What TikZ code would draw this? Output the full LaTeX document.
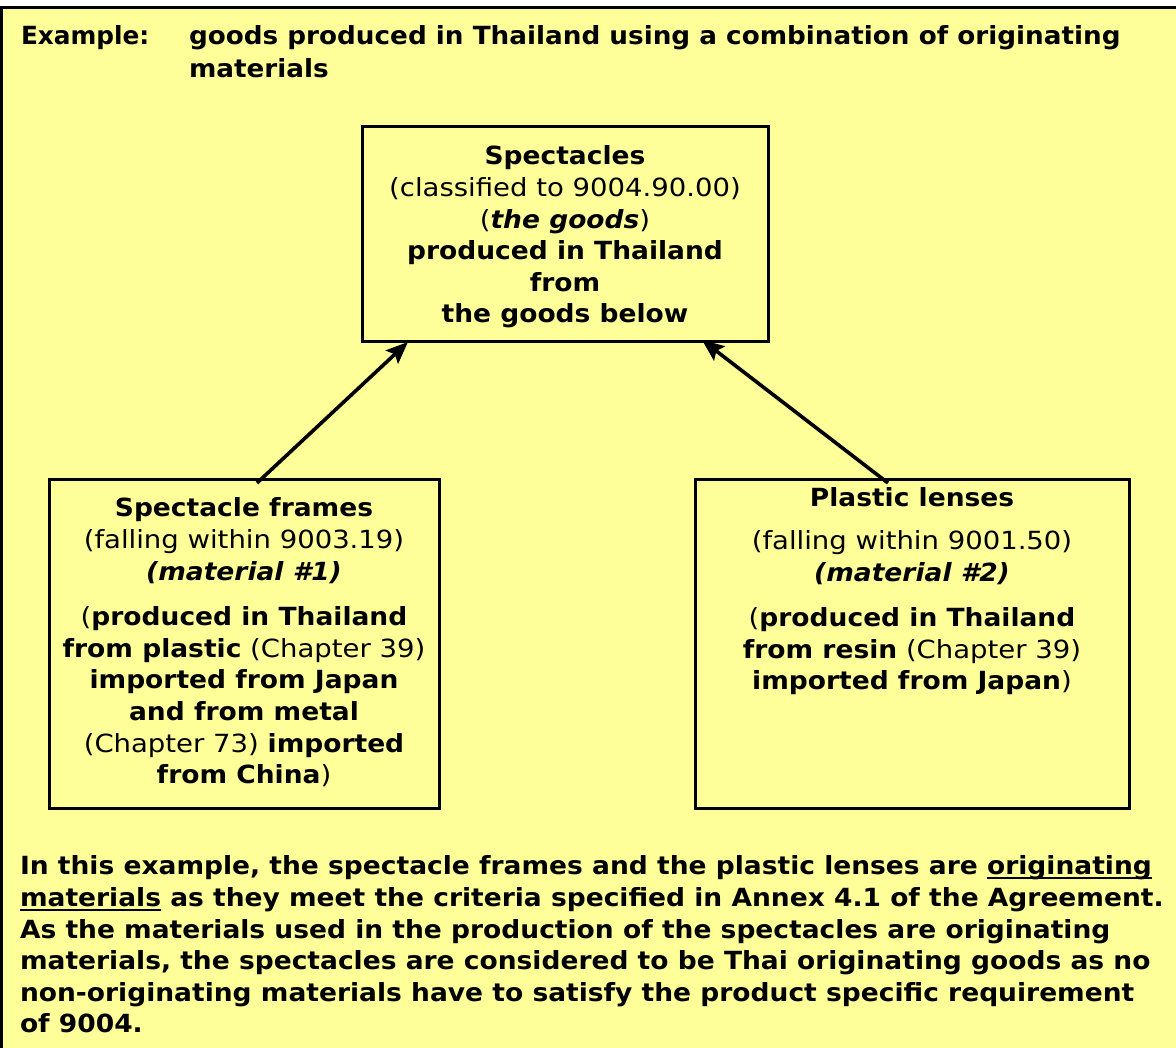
\documentclass[tikz,border=0pt]{standalone}
\usepackage{fontspec}
\setmainfont{DejaVu Sans}[UprightFeatures={FakeStretch=1.10},ItalicFeatures={FakeStretch=1.10},BoldFeatures={FakeStretch=1.06},BoldItalicFeatures={FakeStretch=1.06}]
\newfontfamily\exfont{DejaVu Sans}[BoldFeatures={FakeStretch=0.99}]
\newfontfamily\titfont{DejaVu Sans}[BoldFeatures={FakeStretch=1.05}]
\usetikzlibrary{arrows.meta,calc}
\definecolor{bgyellow}{RGB}{255,255,153}
\newcommand\ulx[1]{\setbox0\hbox{#1}\rlap{\rule[-4pt]{\wd0}{2pt}}\box0\relax}
\tikzset{
  frame/.style={draw=black, line width=3pt, fill=bgyellow, inner sep=0pt, outer sep=0pt, anchor=north west},
  txt/.style={inner sep=0pt, outer sep=0pt, align=center, font=\fontsize{25}{31.6}\selectfont},
  arr/.style={line width=3.6pt, -{Stealth[length=22pt,width=18pt,inset=4pt]}}
}
\begin{document}
\begin{tikzpicture}[x=1pt,y=-1pt]
\useasboundingbox (0,0) rectangle (1176,1048);
\fill[white] (0,0) rectangle (1176,1048);
\fill[bgyellow] (0,8) rectangle (1176,1048);
\draw[line width=3pt] (0,8) -- (1176,8);
\draw[line width=3.5pt] (1.5,8) -- (1.5,1048);

% title
\node[txt, anchor=base west, font=\fontsize{25}{33}\selectfont\exfont\bfseries] (ex) at (21,45) {Example:};
\node[txt, align=left, anchor=north west, font=\fontsize{25}{33}\selectfont\titfont\bfseries] (title) at (189,26)
  {goods produced in Thailand using a combination of originating\\materials};

% boxes
\node[frame, minimum width=406pt, minimum height=215pt] (top) at (362,127) {};
\node[frame, minimum width=390pt, minimum height=328pt] (lbox) at (49,480) {};
\node[frame, minimum width=434pt, minimum height=328pt] (rbox) at (695,480) {};

\node[txt, anchor=north] (toptxt) at (565,146)
  {\textbf{Spectacles}\\
   (classified to 9004.90.00)\\
   (\textbf{\textit{the goods}})\\
   \textbf{produced in Thailand}\\
   \textbf{from}\\
   \textbf{the goods below}};

\node[txt, anchor=north] (ltxt) at (244,498)
  {\textbf{Spectacle frames}\\
   (falling within 9003.19)\\
   \textbf{\textit{(material \#1)}}\\[14pt]
   (\textbf{produced in Thailand}\\
   \textbf{from plastic} (Chapter 39)\\
   \textbf{imported from Japan}\\
   \textbf{and from metal}\\
   (Chapter 73) \textbf{imported}\\
   \textbf{from China})};

\node[txt, anchor=north] (rtxt) at (912,488)
  {\textbf{Plastic lenses}\\[11pt]
   (falling within 9001.50)\\
   \textbf{\textit{(material \#2)}}\\[14pt]
   (\textbf{produced in Thailand}\\
   \textbf{from resin} (Chapter 39)\\
   \textbf{imported from Japan})};

% arrows
\draw[arr] ([xshift=208pt,yshift=-3pt]lbox.north west) -- ([xshift=46pt]top.south west);
\draw[arr] ([xshift=193pt,yshift=-3pt]rbox.north west) -- ([xshift=340pt,yshift=2pt]top.south west);

% bottom paragraph
\node[txt, align=left, anchor=north west, font=\fontsize{25}{31.6}\selectfont\bfseries] (para) at (20,856)
  {In this example, the spectacle frames and the plastic lenses are \ulx{originating}\\
   \ulx{materials} as they meet the criteria specified in Annex 4.1 of the Agreement.\\
   As the materials used in the production of the spectacles are originating\\
   materials, the spectacles are considered to be Thai originating goods as no\\
   non-originating materials have to satisfy the product specific requirement\\
   of 9004.};
\end{tikzpicture}
\end{document}
